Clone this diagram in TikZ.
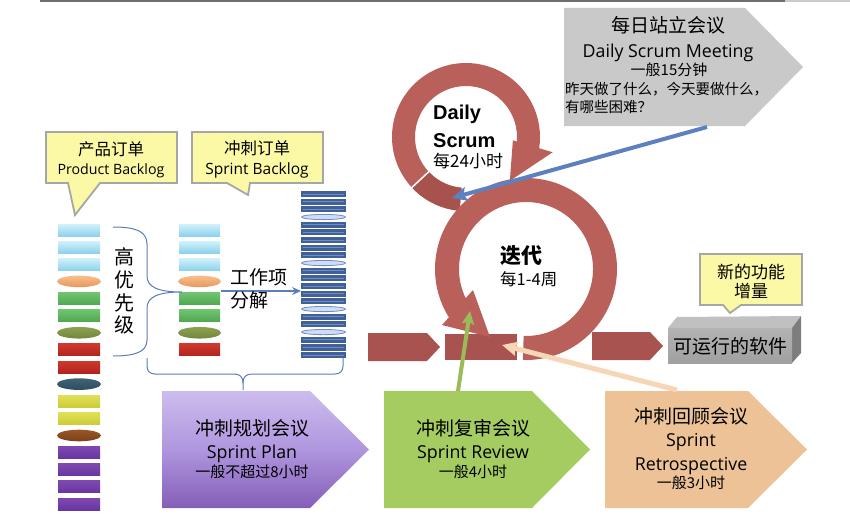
\documentclass[tikz,border=0pt]{standalone}
\usepackage{fontspec}
\setmainfont{Open Sans}
\newfontfamily\cjk{Noto Sans CJK SC}
\newfontfamily\arialb{Liberation Sans}
\usetikzlibrary{calc,arrows.meta}

\definecolor{rulegray}{RGB}{110,110,110}
\definecolor{ringred}{RGB}{185,96,91}
\definecolor{bardark}{RGB}{168,83,79}
\definecolor{tailred}{RGB}{168,82,78}
\definecolor{calloutfill}{RGB}{251,248,166}
\definecolor{calloutedge}{RGB}{166,166,166}
\definecolor{bracebl}{RGB}{91,125,184}
\definecolor{arrowbl}{RGB}{92,128,192}
\definecolor{arrowgr}{RGB}{155,187,89}
\definecolor{arrowpe}{RGB}{247,214,182}
\definecolor{meetgray}{RGB}{201,201,201}
\definecolor{revgreen}{RGB}{164,204,97}
\definecolor{retroorg}{RGB}{236,194,150}
\definecolor{planT}{RGB}{204,188,238}
\definecolor{planM}{RGB}{175,150,222}
\definecolor{planB}{RGB}{132,94,184}
\definecolor{taskblue}{RGB}{66,96,152}
\definecolor{taskline}{RGB}{112,140,196}
\definecolor{taskell}{RGB}{208,220,244}
\definecolor{taskedge}{RGB}{110,140,200}
\definecolor{boxfront}{RGB}{160,160,160}
\definecolor{boxtop}{RGB}{192,192,192}
\definecolor{boxside}{RGB}{125,125,125}
% backlog item colours (top / bottom of each gradient)
\definecolor{lbT}{RGB}{210,241,251}\definecolor{lbB}{RGB}{140,210,236}
\definecolor{orT}{RGB}{247,192,142}\definecolor{orB}{RGB}{232,150,92}
\definecolor{grT}{RGB}{112,196,112}\definecolor{grB}{RGB}{80,168,80}
\definecolor{olT}{RGB}{142,160,82}\definecolor{olB}{RGB}{112,136,60}
\definecolor{rdT}{RGB}{206,56,46}\definecolor{rdB}{RGB}{178,36,30}
\definecolor{tlT}{RGB}{64,100,116}\definecolor{tlB}{RGB}{44,78,94}
\definecolor{ylT}{RGB}{224,224,88}\definecolor{ylB}{RGB}{204,204,56}
\definecolor{brT}{RGB}{152,86,40}\definecolor{brB}{RGB}{124,64,24}
\definecolor{ppT}{RGB}{126,72,176}\definecolor{ppB}{RGB}{104,54,160}

\tikzset{
  cjkt/.style={font=\cjk\fontsize{#1}{#1}\selectfont, inner sep=0pt},
  latt/.style={font=\fontsize{#1}{#1}\selectfont, inner sep=0pt},
  callout/.style={fill=calloutfill, draw=calloutedge, line width=1.8pt, line join=miter},
  bracestyle/.style={draw=bracebl, line width=1pt},
  itembar/.style={top color=#1T, bottom color=#1B},
}

\begin{document}
\begin{tikzpicture}[x=1pt,y=-1pt]
\useasboundingbox (0,0) rectangle (850,516);
\fill[white] (0,0) rectangle (850,516);

% header rule
\draw[rulegray, line width=2pt] (40,1) -- (785,1);
\draw[rulegray!35, line width=2pt] (785,1) -- (850,1);

% ---------- callouts ----------
\path[callout] (46,132) -- (177,132) -- (177,183) -- (100,183) -- (75,215) -- (68,183) -- (46,183) -- cycle;
\node[cjkt=16.5, anchor=base] (pbzh) at (111,155) {产品订单};
\node[latt=14.2, anchor=base] (pben) at (111,174) {Product Backlog};

\path[callout] (192,132) -- (323,132) -- (323,183) -- (250,183) -- (248,195) -- (227,183) -- (192,183) -- cycle;
\node[cjkt=16.5, anchor=base] (sbzh) at (257,154) {冲刺订单};
\node[latt=15.5, anchor=base] (sben) at (257,174) {Sprint Backlog};

\path[callout] (700,254) -- (802,254) -- (802,305) -- (741,305) -- (730,313) -- (723,305) -- (700,305) -- cycle;
\node[cjkt=17, anchor=base] (inc1) at (751,278) {新的功能};
\node[cjkt=17, anchor=base] (inc2) at (751,297) {增量};

% ---------- product backlog ----------
\foreach \e/\c [count=\i from 0] in {0/lb,0/lb,0/lb,1/or,0/gr,0/gr,1/ol,0/rd,0/rd,1/tl,0/yl,0/yl,1/br,0/pp,0/pp,0/pp,0/pp}{
  \pgfmathsetmacro{\yy}{230+17.125*\i}
  \ifnum\e=0
    \path[itembar=\c] (58,\yy-6) rectangle (100,\yy+6);
  \else
    \path[itembar=\c] (79,\yy) ellipse [x radius=22, y radius=5.8];
  \fi
}

% ---------- sprint backlog ----------
\foreach \e/\c [count=\i from 0] in {0/lb,0/lb,0/lb,1/or,0/gr,0/gr,1/ol,0/rd}{
  \pgfmathsetmacro{\yy}{230+17.125*\i}
  \ifnum\e=0
    \path[itembar=\c] (179,\yy-6) rectangle (220,\yy+6);
  \else
    \path[itembar=\c] (199.5,\yy) ellipse [x radius=21.5, y radius=5.8];
  \fi
}

% ---------- decomposed tasks ----------
\foreach \e [count=\i from 0] in {0,0,0,1,0,0,0,0,0,1,0,0,0,0,0,1,0,0,1,0,0,0}{
  \pgfmathsetmacro{\yy}{194+7.67*\i}
  \ifnum\e=0
    \fill[taskblue] (301,\yy-3.1) rectangle (346,\yy+3.1);
    \draw[taskline, line width=0.9pt] (303,\yy) -- (344,\yy);
  \else
    \path[fill=taskell, draw=taskedge, line width=0.8pt] (323.5,\yy) ellipse [x radius=22, y radius=2.6];
  \fi
}

% ---------- braces and decomposition arrow ----------
\path[bracestyle] (113,227) .. controls (135,227) and (147,231) .. (147,244) -- (147,276)
  .. controls (147,287) and (158,292) .. (182,292)
  .. controls (158,292) and (147,297) .. (147,308) -- (147,340)
  .. controls (147,352) and (135,356) .. (113,356);
\node[cjkt=20] (pr1) at (124,257) {高};
\node[cjkt=20] (pr2) at (124,280) {优};
\node[cjkt=20] (pr3) at (124,303) {先};
\node[cjkt=20] (pr4) at (124,325) {级};

\coordinate (splitfrom) at (221,291);
\coordinate (splitto) at (301,291);
\draw[bracebl, line width=1.2pt, -{Stealth[length=9pt,width=8pt,inset=3pt]}] (splitfrom) -- (splitto);
\node[cjkt=19, anchor=base west] (wi1) at (230,284) {工作项};
\node[cjkt=19, anchor=base west] (wi2) at (230,307) {分解};

\path[bracestyle] (147,358) -- (147,366) .. controls (147,371) and (150,374) .. (155,374) -- (234,374)
  .. controls (240,374) and (243,377) .. (243,383) -- (243,390);
\path[bracestyle] (243,383) .. controls (243,377) and (246,374) .. (252,374) -- (335,374)
  .. controls (340,374) and (343,371) .. (343,366) -- (343,358);

% ---------- meeting arrows ----------
\shade[top color=planT, bottom color=planB, middle color=planM]
  (162,391) -- (310,391) -- (369,449.5) -- (310,508) -- (162,508) -- cycle;
\node[cjkt=19, anchor=base] (sp1) at (252,435) {冲刺规划会议};
\node[latt=17.8, anchor=base] (sp2) at (252,458) {Sprint Plan};
\node[cjkt=15, anchor=base] (sp3) at (252,477) {一般不超过8小时};

\fill[revgreen] (384,391) -- (532,391) -- (590,449.5) -- (532,508) -- (384,508) -- cycle;
\node[cjkt=19, anchor=base] (sr1) at (473,435) {冲刺复审会议};
\node[latt=17.8, anchor=base] (sr2) at (473,458) {Sprint Review};
\node[cjkt=15, anchor=base] (sr3) at (473,477) {一般4小时};

\fill[retroorg] (605,391) -- (748,391) -- (807,449.5) -- (748,508) -- (605,508) -- cycle;
\node[cjkt=19, anchor=base] (rt1) at (691,423) {冲刺回顾会议};
\node[latt=17.8, anchor=base] (rt2) at (691,446) {Sprint};
\node[latt=17.8, anchor=base] (rt3) at (691,470) {Retrospective};
\node[cjkt=15, anchor=base] (rt4) at (691,488) {一般3小时};

\fill[meetgray] (564,8) -- (745,8) -- (803,67) -- (745,126) -- (564,126) -- cycle;
\node[cjkt=19, anchor=base] (dm1) at (668,33) {每日站立会议};
\node[latt=17.8, anchor=base] (dm2) at (668,58) {Daily Scrum Meeting};
\node[cjkt=15, anchor=base] (dm3) at (669,76) {一般15分钟};
\node[cjkt=14.5, anchor=base west] (dm4) at (565,95) {昨天做了什么，今天要做什么，};
\node[cjkt=14.5, anchor=base west] (dm5) at (565,112) {有哪些困难？};

% ---------- sprint timeline ----------
\fill[bardark] (368,333) -- (427,333) -- (440,347) -- (427,361) -- (368,361) -- cycle;
\fill[bardark] (445,334) rectangle (517,360);
\fill[bardark] (592,332) -- (650,332) -- (663,346) -- (650,360) -- (592,360) -- cycle;

% ---------- daily loop ----------
\coordinate (smc) at (466,137);
\fill[ringred] ($(smc)+(95:74)$) arc[start angle=95, end angle=368.7, radius=74]
  -- ($(smc)+(370:88)$) -- ($(smc)+(405:62)$) -- ($(smc)+(364:47)$)
  -- ($(smc)+(365.1:51)$) arc[start angle=365.1, end angle=95, radius=51] -- cycle;
\fill[tailred] ($(smc)+(95:74)$) arc[start angle=95, end angle=136, radius=74]
  -- ($(smc)+(136:51)$) arc[start angle=136, end angle=95, radius=51] -- cycle;
\draw[white, line width=1.5pt] ($(smc)+(137:49)$) -- ($(smc)+(137:76)$);

% ---------- sprint loop ----------
\coordinate (bigc) at (526,269);
\fill[ringred] ($(bigc)+(92:91)$) arc[start angle=92, end angle=-212.1, radius=91]
  -- ($(bigc)+(-213.7:101)$) -- ($(bigc)+(-242.1:77)$) -- ($(bigc)+(-201.6:57)$)
  -- ($(bigc)+(-205.8:67)$) arc[start angle=-205.8, end angle=92, radius=67] -- cycle;

\node[font=\arialb\bfseries\fontsize{20}{20}\selectfont, inner sep=0pt, anchor=base west] (ds1) at (433,120) {Daily};
\node[font=\arialb\bfseries\fontsize{20}{20}\selectfont, inner sep=0pt, anchor=base west] (ds2) at (433,147) {Scrum};
\node[cjkt=17, anchor=base west] (ds3) at (433,167) {每24小时};
\node[cjkt=21, anchor=base west, font=\cjk\bfseries\fontsize{21}{21}\selectfont] (it1) at (500,263) {迭代};
\node[cjkt=16.5, anchor=base west] (it2) at (500,285) {每1-4周};

% ---------- working software ----------
\fill[boxtop] (668,328) -- (677,317) -- (801,316) -- (792,328) -- cycle;
\fill[boxside] (792,328) -- (801,316) -- (801,353) -- (792,363) -- cycle;
\shade[top color=boxfront!80!white, bottom color=boxfront] (668,328) rectangle (792,363);
\node[cjkt=19, anchor=base] (ws) at (730,353) {可运行的软件};

% ---------- links ----------
\coordinate (meetfoot) at (707,127);
\coordinate (dailyin) at (452,198);
\coordinate (reviewtop) at (458,391);
\coordinate (reviewin) at (470,311);
\coordinate (retrotop) at (677,390);
\coordinate (retroin) at (502,345);
\draw[arrowbl, line width=4pt, -{Stealth[length=15pt,width=14pt,inset=3pt]}] (meetfoot) -- (dailyin);
\draw[arrowgr, line width=4pt, -{Stealth[length=13pt,width=12pt,inset=2pt]}] (reviewtop) -- (reviewin);
\draw[arrowpe, line width=5pt, -{Stealth[length=15pt,width=14pt,inset=2pt]}] (retrotop) -- (retroin);

\end{tikzpicture}
\end{document}
